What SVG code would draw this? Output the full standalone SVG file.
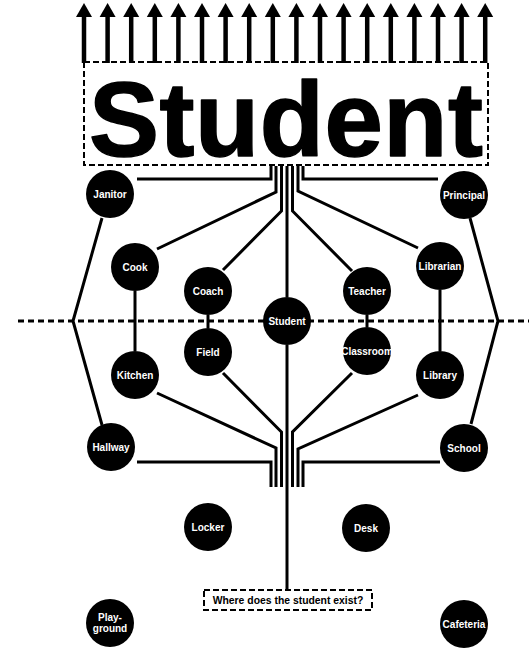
<svg xmlns="http://www.w3.org/2000/svg" width="529" height="648" viewBox="0 0 529 648">
<defs>
<style>
.c{fill:#000}
.t{fill:#fff;font-family:"Liberation Sans",Arial,sans-serif;font-weight:bold;font-size:10px;text-anchor:middle}
.w{fill:none;stroke:#000;stroke-width:3;stroke-linejoin:miter}
.arr{fill:none;stroke:#000;stroke-width:4.5}
.ah{fill:#000}
.box{fill:none;stroke:#000;stroke-width:2;stroke-dasharray:6 3}
</style>
</defs>
<rect width="529" height="648" fill="#fff"/>
<g id="arrows">
<g id="arrowTemplate">
<line class="arr" x1="84" y1="14" x2="84" y2="63"/><polygon class="ah" points="84,3 76,17 92,17"/>
</g>
<use href="#arrowTemplate" x="23.6"/>
<use href="#arrowTemplate" x="47.2"/>
<use href="#arrowTemplate" x="70.8"/>
<use href="#arrowTemplate" x="94.4"/>
<use href="#arrowTemplate" x="118"/>
<use href="#arrowTemplate" x="141.6"/>
<use href="#arrowTemplate" x="165.2"/>
<use href="#arrowTemplate" x="188.8"/>
<use href="#arrowTemplate" x="212.4"/>
<use href="#arrowTemplate" x="236"/>
<use href="#arrowTemplate" x="259.6"/>
<use href="#arrowTemplate" x="283.2"/>
<use href="#arrowTemplate" x="306.8"/>
<use href="#arrowTemplate" x="330.4"/>
<use href="#arrowTemplate" x="354"/>
<use href="#arrowTemplate" x="377.6"/>
<use href="#arrowTemplate" x="401.2"/>
</g>
<g id="title">
<rect class="box" x="84" y="62" width="404" height="103"/>
<text x="286" y="156" font-family="Liberation Sans, Arial, sans-serif" font-weight="bold" font-size="105" text-anchor="middle" textLength="394" lengthAdjust="spacing" stroke="#000" stroke-width="1.5" stroke-linejoin="round">Student</text>
</g>
<g id="connectors">
<line x1="18" y1="321" x2="529" y2="321" stroke="#000" stroke-width="3" stroke-dasharray="6 4"/>
<polyline class="w" points="137,179 271,179 271,166"/>
<polyline class="w" points="157,249 276,192 276,166"/>
<polyline class="w" points="223,270 281.5,211 281.5,166"/>
<line class="w" x1="287" y1="297" x2="287" y2="166"/>
<polyline class="w" points="352,271 292.5,211 292.5,166"/>
<polyline class="w" points="418,248 298,191 298,166"/>
<polyline class="w" points="438,179 303,179 303,166"/>
<polyline class="w" points="137,462 271,462 271,487"/>
<polyline class="w" points="157,393 276,448 276,487"/>
<polyline class="w" points="223,373 281.5,432 281.5,487"/>
<line class="w" x1="287" y1="345" x2="287" y2="590"/>
<polyline class="w" points="352,373 292.5,432 292.5,487"/>
<polyline class="w" points="418,395 298,449 298,487"/>
<polyline class="w" points="440,462 303,462 303,487"/>
<line class="w" x1="135" y1="291" x2="135" y2="351"/>
<line class="w" x1="208" y1="315" x2="208" y2="328"/>
<line class="w" x1="367" y1="315" x2="367" y2="327"/>
<line class="w" x1="440" y1="290" x2="440" y2="351"/>
<polyline class="w" points="102,218 73,321 102,425"/>
<polyline class="w" points="470,218 498,321 471,424"/>
</g>
<g id="janitor"><circle class="c" cx="110" cy="194" r="24"/><text class="t" x="110" y="197.5">Janitor</text></g>
<g id="principal"><circle class="c" cx="464" cy="195" r="24"/><text class="t" x="464" y="198.5">Principal</text></g>
<g id="cook"><circle class="c" cx="135" cy="267" r="24"/><text class="t" x="135" y="270.5">Cook</text></g>
<g id="librarian"><circle class="c" cx="440" cy="266" r="24"/><text class="t" x="440" y="269.5">Librarian</text></g>
<g id="coach"><circle class="c" cx="208" cy="291" r="24"/><text class="t" x="208" y="294.5">Coach</text></g>
<g id="teacher"><circle class="c" cx="367" cy="291" r="24"/><text class="t" x="367" y="294.5">Teacher</text></g>
<g id="student"><circle class="c" cx="287" cy="321" r="24"/><text class="t" x="287" y="324.5">Student</text></g>
<g id="field"><circle class="c" cx="208" cy="352" r="24"/><text class="t" x="208" y="355.5">Field</text></g>
<g id="classroom"><circle class="c" cx="367" cy="351" r="24"/><text class="t" x="367" y="354.5">Classroom</text></g>
<g id="kitchen"><circle class="c" cx="135" cy="375" r="24"/><text class="t" x="135" y="378.5">Kitchen</text></g>
<g id="library"><circle class="c" cx="440" cy="375" r="24"/><text class="t" x="440" y="378.5">Library</text></g>
<g id="hallway"><circle class="c" cx="111" cy="447" r="24"/><text class="t" x="111" y="450.5">Hallway</text></g>
<g id="school"><circle class="c" cx="464" cy="448" r="24"/><text class="t" x="464" y="451.5">School</text></g>
<g id="locker"><circle class="c" cx="208" cy="527" r="24"/><text class="t" x="208" y="530.5">Locker</text></g>
<g id="desk"><circle class="c" cx="366" cy="528" r="24"/><text class="t" x="366" y="531.5">Desk</text></g>
<g id="playground"><circle class="c" cx="110" cy="623" r="24"/><text class="t" x="110" y="620.5">Play-</text><text class="t" x="110" y="631.5">ground</text></g>
<g id="cafeteria"><circle class="c" cx="464" cy="624" r="24"/><text class="t" x="464" y="627.5">Cafeteria</text></g>
<g id="caption">
<rect class="box" x="204" y="590" width="168" height="20" stroke-dasharray="6 4"/>
<text x="288" y="604" font-family="Liberation Sans, Arial, sans-serif" font-weight="bold" font-size="10.4" text-anchor="middle">Where does the student exist?</text>
</g>
</svg>
